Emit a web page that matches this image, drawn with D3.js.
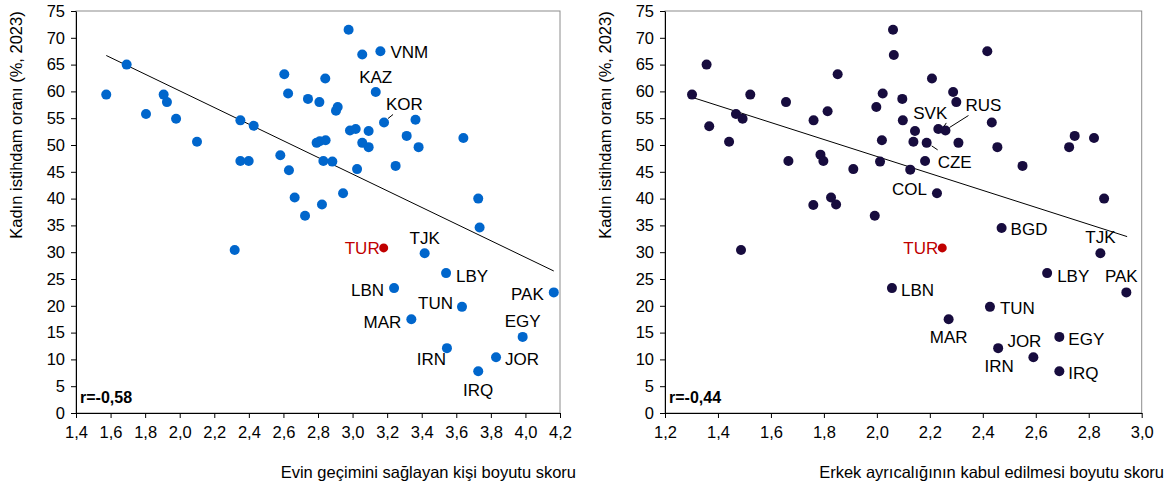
<!DOCTYPE html>
<html>
<head>
<meta charset="utf-8">
<script src="https://cdn.jsdelivr.net/npm/d3@7"></script>
<style>
  body { margin: 0; background: #fff; }
  svg { display: block; font-family: "Liberation Sans", Arial, sans-serif; }
</style>
</head>
<body>
<svg id="chart" width="1170" height="491"></svg>
<script>
// sol panel: evin gecimini saglayan kisi boyutu skoru
var leftScore = [1.575, 1.693, 1.805, 1.907, 1.926, 1.979, 2.100, 2.351, 2.428, 2.351, 2.399, 2.605, 2.627, 2.582, 2.632,
  2.742, 2.808, 2.842, 2.914, 2.904, 2.977, 3.056, 3.161, 3.134, 3.182, 3.364, 2.985, 3.018, 3.093, 2.792, 2.810, 2.844,
  3.056, 3.093, 3.313, 3.382, 3.641, 2.831, 2.883, 3.026, 3.249, 2.945, 3.727, 2.665, 2.823, 2.725, 3.735, 2.318,
  3.180, 3.417, 3.541, 3.240, 4.164, 3.633, 3.340, 3.984, 3.546, 3.830, 3.727];
var leftRate = [59.4, 65.0, 55.8, 59.4, 58.0, 54.9, 50.6, 54.6, 53.6, 47.0, 47.0, 63.2, 59.6, 48.1, 45.3,
  58.6, 58.0, 62.4, 57.1, 56.4, 71.5, 66.9, 67.5, 59.9, 54.2, 54.7, 52.7, 53.0, 52.6, 50.4, 50.7, 50.9,
  50.4, 49.6, 51.7, 49.6, 51.3, 47.0, 46.9, 45.5, 46.1, 41.0, 40.0, 40.2, 38.9, 36.8, 34.6, 30.4,
  30.8, 29.8, 26.1, 23.3, 22.5, 19.8, 17.5, 14.2, 12.1, 10.4, 7.8];
var leftCode = ["", "", "", "", "", "", "", "", "", "", "", "", "", "", "",
  "", "", "", "", "", "", "", "VNM", "KAZ", "KOR", "", "", "", "", "", "", "",
  "", "", "", "", "", "", "", "", "", "", "", "", "", "", "", "",
  "TUR", "TJK", "LBY", "LBN", "PAK", "TUN", "MAR", "EGY", "IRN", "JOR", "IRQ"];

// sag panel: erkek ayricaliginin kabul edilmesi boyutu skoru
var rightScore = [1.302, 1.357, 1.367, 1.442, 1.468, 1.493, 1.522, 1.657, 1.666, 1.761, 1.814, 1.852, 1.787, 1.798, 1.911,
  1.760, 1.827, 1.846, 1.992, 1.998, 2.022, 2.019, 2.012, 2.061, 2.064, 2.096, 2.098, 2.144, 2.138, 2.126,
  2.208, 2.188, 2.182, 2.232, 2.259, 2.288, 2.300, 2.308, 2.227, 2.417, 2.434, 2.455, 2.550, 2.726, 2.747,
  2.820, 2.858, 1.487, 2.471, 2.247, 2.844, 2.643, 2.942, 2.057, 2.427, 2.271, 2.689, 2.458, 2.591, 2.689];
var rightRate = [59.4, 65.0, 53.5, 50.6, 55.8, 54.9, 59.4, 58.0, 47.0, 54.6, 56.3, 63.2, 48.2, 47.0, 45.5,
  38.8, 40.2, 38.9, 36.8, 57.1, 59.6, 50.9, 46.9, 71.5, 66.8, 58.6, 54.6, 52.6, 50.6, 45.4,
  62.4, 50.4, 47.0, 53.0, 52.7, 59.9, 58.0, 50.4, 41.0, 67.5, 54.2, 49.6, 46.1, 49.6, 51.7,
  51.3, 40.0, 30.4, 34.5, 30.8, 29.8, 26.1, 22.5, 23.3, 19.8, 17.5, 14.2, 12.1, 10.4, 7.8];
var rightCode = ["", "", "", "", "", "", "", "", "", "", "", "", "", "", "",
  "", "", "", "", "", "", "", "", "", "", "", "", "", "", "",
  "", "CZE", "", "SVK", "RUS", "", "", "", "COL", "", "", "", "", "", "",
  "", "", "", "BGD", "TUR", "TJK", "LBY", "PAK", "LBN", "TUN", "MAR", "EGY", "IRN", "JOR", "IRQ"];

var yTicks = [0, 5, 10, 15, 20, 25, 30, 35, 40, 45, 50, 55, 60, 65, 70, 75];
var leftXTicks = [1.4, 1.6, 1.8, 2.0, 2.2, 2.4, 2.6, 2.8, 3.0, 3.2, 3.4, 3.6, 3.8, 4.0, 4.2];
var rightXTicks = [1.2, 1.4, 1.6, 1.8, 2.0, 2.2, 2.4, 2.6, 2.8, 3.0];

// trend lines: [x0, x1, intercept, slope]
var leftTrend = [1.575, 4.164, 91.16, -15.53];
var rightTrend = [1.302, 2.945, 79.50, -15.82];
var leftR = "r=-0,58";
var rightR = "r=-0,44";

var yTitle = "Kadın istihdam oranı (%, 2023)";
var leftXTitle = "Evin geçimini sağlayan kişi boyutu skoru";
var rightXTitle = "Erkek ayrıcalığının kabul edilmesi boyutu skoru";

var fmt = d3.formatLocale({ decimal: ",", thousands: ".", grouping: [3], currency: ["", ""] }).format(".1f");

// label placement: dx, dy (text middle), anchor, optional leader [x1,y1,x2,y2]
var leftLabels = {
  VNM: [10, 1, "start"], KAZ: [0, -15, "middle"], KOR: [2, -18, "start", [4, -4, 9, -8]],
  TUR: [-4, 0, "end"], TJK: [0, -15, "middle"], LBY: [10, 3, "start"], LBN: [-10, 2, "end"],
  PAK: [-10, 2, "end"], TUN: [-9, -4, "end"], MAR: [-10, 3, "end"], EGY: [0, -16, "middle"],
  IRN: [-1, 11, "end"], JOR: [9, 2, "start"], IRQ: [0, 19, "middle"]
};
var rightLabels = {
  SVK: [-8, -16, "middle", [6, -3, 8, -6]], RUS: [20, -25, "start", [4, -3, 23, -15]],
  CZE: [11, 19, "start", [5, 3, 11, 7]], COL: [-10, -4, "end"], BGD: [9, 1, "start"],
  TUR: [-4, 0, "end"], TJK: [0, -16, "middle"], LBY: [10, 3, "start"], PAK: [-5, -16, "middle"],
  LBN: [9, 2, "start"], TUN: [10, 1, "start"], MAR: [0, 18, "middle"], EGY: [9, 2, "start"],
  IRN: [1, 18, "middle"], JOR: [-9, -16, "middle"], IRQ: [9, 2, "start"]
};

var svg = d3.select("#chart");

function panel(opt) {
  var x = d3.scaleLinear().domain(opt.xDomain).range([opt.left, opt.right]);
  var y = d3.scaleLinear().domain([0, 75]).range([413, 11]);
  var g = svg.append("g");

  // frame
  g.append("rect")
    .attr("x", opt.left).attr("y", 11)
    .attr("width", opt.right - opt.left).attr("height", 402)
    .attr("fill", "none").attr("stroke", "#8c8c8c").attr("stroke-width", 1);

  var ya = g.append("g").attr("transform", "translate(" + opt.left + ",0)")
    .call(d3.axisLeft(y).tickValues(yTicks).tickSize(5).tickSizeOuter(0).tickPadding(6));
  var xa = g.append("g").attr("transform", "translate(0,413)")
    .call(d3.axisBottom(x).tickValues(opt.xTicks).tickFormat(fmt).tickSize(5).tickSizeOuter(0).tickPadding(8));
  [ya, xa].forEach(function (a) {
    a.selectAll("text").attr("font-size", "16.5px").attr("fill", "#000")
      .attr("font-family", "Liberation Sans, Arial, sans-serif");
    a.selectAll("line, path").attr("stroke", "#000");
  });

  // trend line
  var t = opt.trend;
  g.append("line")
    .attr("x1", x(t[0])).attr("y1", y(t[2] + t[3] * t[0]))
    .attr("x2", x(t[1])).attr("y2", y(t[2] + t[3] * t[1]))
    .attr("stroke", "#000").attr("stroke-width", 1);

  var pts = opt.xs.map(function (v, i) { return { x: v, y: opt.ys[i], code: opt.codes[i] }; });

  g.selectAll("circle.pt").data(pts).enter().append("circle")
    .attr("class", "pt")
    .attr("cx", function (d) { return x(d.x); })
    .attr("cy", function (d) { return y(d.y); })
    .attr("r", function (d) { return d.code === "TUR" ? 4.5 : 5; })
    .attr("fill", function (d) { return d.code === "TUR" ? "#c00000" : opt.color; });

  var lab = pts.filter(function (d) { return opt.labels[d.code]; });
  lab.forEach(function (d) {
    var c = opt.labels[d.code];
    var px = x(d.x), py = y(d.y);
    if (c[3]) {
      g.append("line")
        .attr("x1", px + c[3][0]).attr("y1", py + c[3][1])
        .attr("x2", px + c[3][2]).attr("y2", py + c[3][3])
        .attr("stroke", "#000").attr("stroke-width", 1);
    }
    g.append("text")
      .attr("x", px + c[0]).attr("y", py + c[1])
      .attr("dy", "0.35em")
      .attr("text-anchor", c[2])
      .attr("font-size", "17px")
      .attr("fill", d.code === "TUR" ? "#c00000" : "#000")
      .text(d.code);
  });

  g.append("text")
    .attr("x", opt.left + 4).attr("y", 403)
    .attr("font-size", "16px").attr("font-weight", "bold")
    .text(opt.r);

  g.append("text")
    .attr("transform", "translate(" + opt.titleX + ",125) rotate(-90)")
    .attr("text-anchor", "middle").attr("dy", "0.35em")
    .attr("font-size", "16.5px")
    .text(yTitle);

  g.append("text")
    .attr("x", opt.xTitleEnd).attr("y", 478)
    .attr("text-anchor", "end")
    .attr("font-size", "16.5px")
    .text(opt.xTitle);
}

panel({ xDomain: [1.4, 4.2], left: 76, right: 560, xTicks: leftXTicks, trend: leftTrend,
  xs: leftScore, ys: leftRate, codes: leftCode, labels: leftLabels, color: "#0066cc",
  r: leftR, titleX: 16, xTitle: leftXTitle, xTitleEnd: 576 });
panel({ xDomain: [1.2, 3.0], left: 665, right: 1141.7, xTicks: rightXTicks, trend: rightTrend,
  xs: rightScore, ys: rightRate, codes: rightCode, labels: rightLabels, color: "#170c3e",
  r: rightR, titleX: 605, xTitle: rightXTitle, xTitleEnd: 1164 });
</script>
</body>
</html>
